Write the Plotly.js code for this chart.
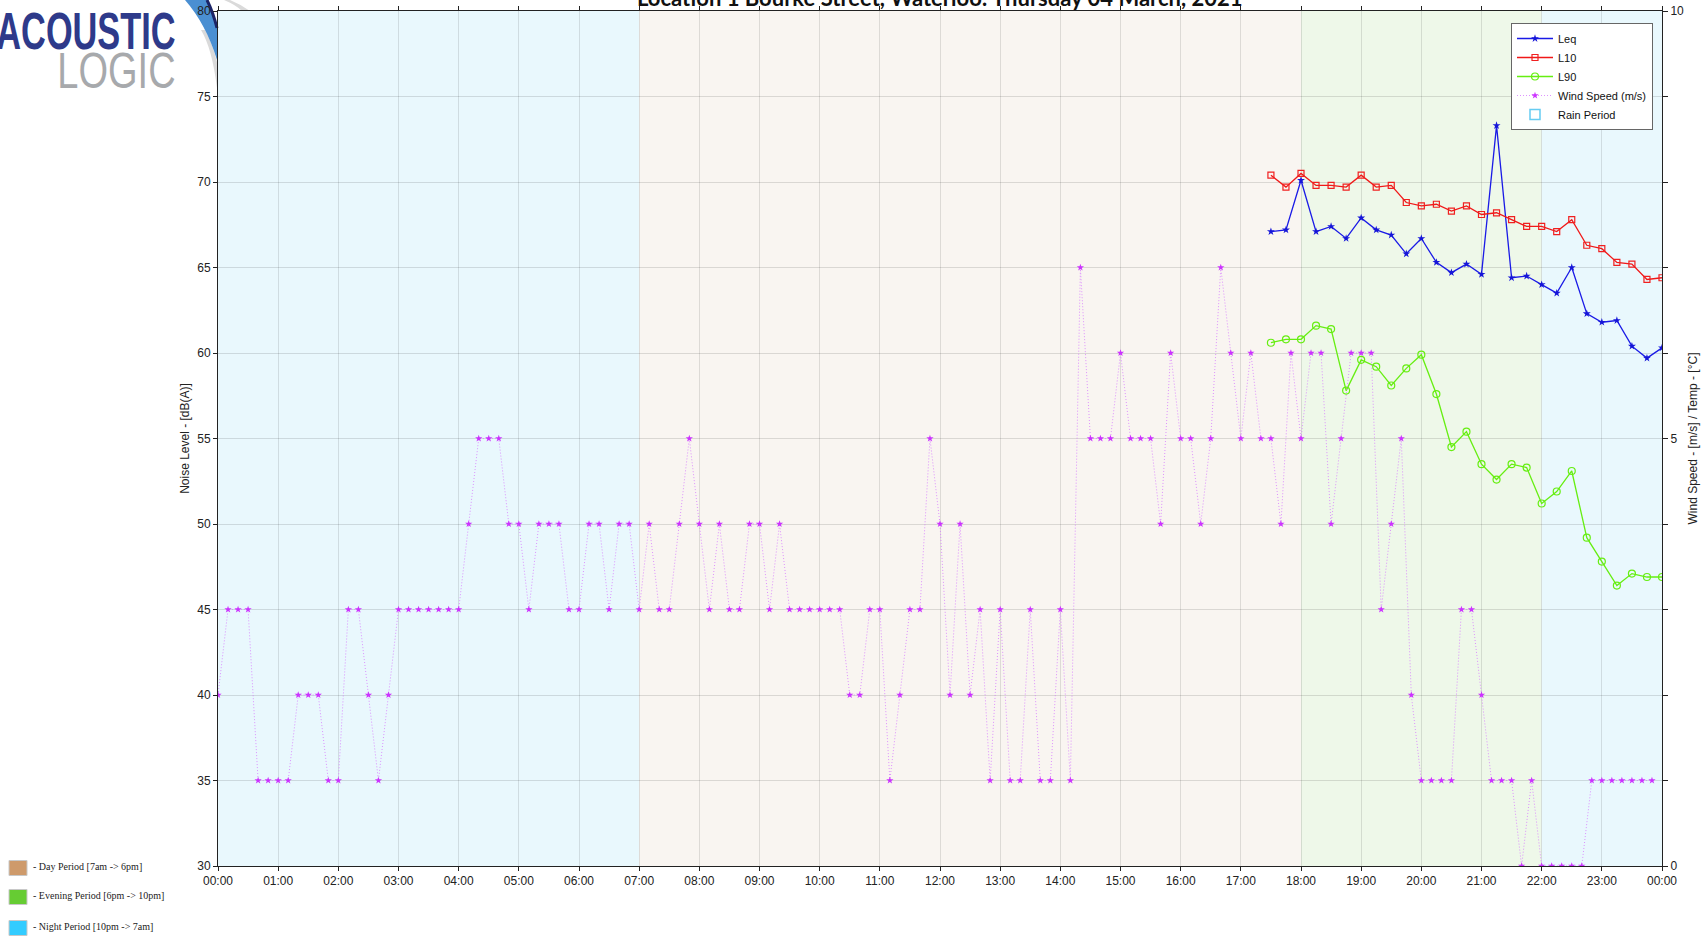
<!DOCTYPE html>
<html>
<head>
<meta charset="utf-8">
<script src="https://cdn.plot.ly/plotly-3.0.1.min.js"></script>
<style>
html,body{margin:0;padding:0;background:#fff;}
#chart{width:1703px;height:939px;}
</style>
</head>
<body>
<div id="chart"></div>
<script>
// ---------------- DATA ----------------
const chartTitle = 'Location 1 Bourke Street, Waterloo: Thursday 04 March, 2021';

// Wind speed (m/s), every 10 minutes from 00:00 to 23:50
const windSpeed = [
  2,3,3,3,1,1,  1,1,2,2,2,1,  1,3,3,2,1,2,  3,3,3,3,3,3,
  3,4,5,5,5,4,  4,3,4,4,4,3,  3,4,4,3,4,4,  3,4,3,3,4,5,
  4,3,4,3,3,4,  4,3,4,3,3,3,  3,3,3,2,2,3,  3,1,2,3,3,5,
  4,2,4,2,3,1,  3,1,1,3,1,1,  3,1,7,5,5,5,  6,5,5,5,4,6,
  5,5,4,5,7,6,  5,6,5,5,4,6,  5,6,6,4,5,6,  6,6,3,4,5,2,
  1,1,1,1,3,3,  2,1,1,1,0,1,  0,0,0,0,0,1,  1,1,1,1,1,1
];

// Noise levels dB(A), every 15 minutes from 17:30 to 24:00
const leq = [67.1,67.2,70.1,67.1,67.4,66.7,67.9,67.2,66.9,65.8,66.7,65.3,64.7,65.2,64.6,
             73.3,64.4,64.5,64.0,63.5,65.0,62.3,61.8,61.9,60.4,59.7,60.3];
const l10 = [70.4,69.7,70.5,69.8,69.8,69.7,70.4,69.7,69.8,68.8,68.6,68.7,68.3,68.6,68.1,
             68.2,67.8,67.4,67.4,67.1,67.8,66.3,66.1,65.3,65.2,64.3,64.4];
const l90 = [60.6,60.8,60.8,61.6,61.4,57.8,59.6,59.2,58.1,59.1,59.9,57.6,54.5,55.4,53.5,
             52.6,53.5,53.3,51.2,51.9,53.1,49.2,47.8,46.4,47.1,46.9,46.9];

const hourLabels = ['00:00','01:00','02:00','03:00','04:00','05:00','06:00','07:00','08:00',
  '09:00','10:00','11:00','12:00','13:00','14:00','15:00','16:00','17:00','18:00','19:00',
  '20:00','21:00','22:00','23:00','00:00'];

const periods = [
  {start:0,  end:7,  color:'#E9F8FD'},
  {start:7,  end:18, color:'#F9F5F1'},
  {start:18, end:22, color:'#EEF8E9'},
  {start:22, end:24, color:'#E9F8FD'}
];

const keyLabels = ['- Day Period [7am -> 6pm]', '- Evening Period [6pm -> 10pm]', '- Night Period [10pm -> 7am]'];
const keyColors = ['#CE9A6B', '#66CC33', '#33CCFF'];

// ---------------- HELPERS ----------------
function stamp(totalMin){
  const day = totalMin >= 1440 ? '2021-03-05' : '2021-03-04';
  const m = totalMin % 1440;
  return day + ' ' + String(Math.floor(m/60)).padStart(2,'0') + ':' + String(m%60).padStart(2,'0');
}
const windTimes = windSpeed.map((_, i) => stamp(i*10));
const noiseTimes = leq.map((_, i) => stamp(17*60 + 30 + i*15));
const hourTicks = hourLabels.map((_, i) => stamp(i*60));

// page geometry (for decorations outside the plot)
const W = 1703, H = 939;
const M = {l:218, r:41, t:11, b:73};
const PW = W - M.l - M.r, PH = H - M.t - M.b;
const px = x => (x - M.l) / PW;
const py = y => (H - M.b - y) / PH;

// ---------------- TRACES ----------------
const font = 'Liberation Sans, Arial, sans-serif';
const traces = [
  {x: noiseTimes, y: leq, name: 'Leq', type: 'scatter', mode: 'lines+markers',
   line: {color: '#1A1AE6', width: 1.3}, marker: {symbol: 'star', size: 6, color: '#1515D8'}},
  {x: noiseTimes, y: l10, name: 'L10', type: 'scatter', mode: 'lines+markers',
   line: {color: '#F01818', width: 1.3}, marker: {symbol: 'square-open', size: 6, color: '#F02020', line:{width:1.2}}},
  {x: noiseTimes, y: l90, name: 'L90', type: 'scatter', mode: 'lines+markers',
   line: {color: '#66EE11', width: 1.3}, marker: {symbol: 'circle-open', size: 7, color: '#66EE11', line:{width:1.2}}},
  {x: windTimes, y: windSpeed, name: 'Wind Speed (m/s)', type: 'scatter', mode: 'lines+markers', yaxis: 'y2',
   line: {color: 'rgba(214,120,255,0.8)', width: 1, dash: '1px,2px'}, marker: {symbol: 'star', size: 5.5, color: '#CC33FF'}},
  {x: [null], y: [null], name: 'Rain Period', type: 'scatter', mode: 'markers',
   marker: {symbol: 'square-open', size: 10, color: '#66CCF2', line:{width:1.5}}}
];

// ---------------- SHAPES ----------------
const shapes = periods.map(p => ({
  type: 'rect', xref: 'x', yref: 'paper', layer: 'below',
  x0: stamp(p.start*60), x1: stamp(p.end*60), y0: 0, y1: 1,
  fillcolor: p.color, line: {width: 0}
}));

// logo swoosh (decoration)
function pathFrom(pts){
  return pts.map(c => (typeof c === 'string') ? c : px(c[0]).toFixed(5) + ',' + py(c[1]).toFixed(5)).join(' ');
}
shapes.push({type:'path', xref:'paper', yref:'paper', layer:'below',
  path: pathFrom(['M',[230,0],'Q',[240,4],[250,11],'L',[242,11],'Q',[236,5],[224,0],'Z']),
  fillcolor:'#DADADA', line:{width:0}});
shapes.push({type:'path', xref:'paper', yref:'paper', layer:'below',
  path: pathFrom(['M',[201,30],'Q',[212,48],[217,88],'L',[217,62],'Q',[212,42],[205,30],'Z']),
  fillcolor:'#DADADA', line:{width:0}});
shapes.push({type:'path', xref:'paper', yref:'paper', layer:'below',
  path: pathFrom(['M',[185,0],'Q',[206,24],[217,60],'L',[217,28],'Q',[212,12],[207,0],'Z']),
  fillcolor:'#4A8FD2', line:{width:0}});
shapes.push({type:'path', xref:'paper', yref:'paper', layer:'below',
  path: pathFrom(['M',[207,0],'Q',[213,12],[217,28]]),
  line:{color:'#1C2466', width:3}});

// bottom-left period key squares
const keyY = [868, 897, 928];
keyY.forEach((yc, i) => shapes.push({
  type:'rect', xref:'paper', yref:'paper', layer:'above',
  x0: px(9), x1: px(27), y0: py(yc+7.5), y1: py(yc-7.5),
  fillcolor: keyColors[i], line:{color:'#C8C8C8', width:1}
}));

// ---------------- ANNOTATIONS ----------------
const logoFont = 'Liberation Sans, Arial, sans-serif';
const annotations = [
  {text: '<b>' + chartTitle + '</b>', xref:'paper', yref:'paper', x: px(939), y: py(-3),
   xanchor:'center', yanchor:'middle', showarrow:false,
   font:{family:'Lato, Carlito, sans-serif', size:22, color:'#111'}},
  {text: '<b>ACOUSTIC</b>', xref:'paper', yref:'paper', x: px(178), y: py(31),
   xanchor:'right', yanchor:'middle', showarrow:false,
   font:{family: logoFont, size:52, color:'#2E3A8A'}},
  {text: 'LOGIC', xref:'paper', yref:'paper', x: px(178), y: py(71),
   xanchor:'right', yanchor:'middle', showarrow:false,
   font:{family: logoFont, size:50, color:'#A7A9AC'}}
];
keyY.forEach((yc, i) => annotations.push({
  text: keyLabels[i], xref:'paper', yref:'paper', x: px(31), y: py(yc-2),
  xanchor:'left', yanchor:'middle', showarrow:false,
  font:{family:'Liberation Serif, DejaVu Serif, serif', size:10, color:'#222'}
}));

// ---------------- LAYOUT ----------------
const layout = {
  width: W, height: H,
  margin: M,
  paper_bgcolor: '#FFFFFF', plot_bgcolor: '#FFFFFF',
  font: {family: font, size: 12, color: '#222'},
  showlegend: true,
  legend: {x: px(1511), y: py(23), xanchor:'left', yanchor:'top',
    bgcolor:'#FFFFFF', bordercolor:'#666', borderwidth:1,
    font:{family: font, size: 11, color:'#111'}, itemwidth: 36, tracegroupgap: 0},
  xaxis: {
    type: 'date', range: [stamp(0), stamp(1440)],
    tickvals: hourTicks, ticktext: hourLabels,
    ticks: 'outside', ticklen: 4, tickcolor: '#222',
    showline: true, linecolor: '#222', linewidth: 1, mirror: 'ticks',
    showgrid: true, gridcolor: 'rgba(0,0,0,0.11)', gridwidth: 1,
    zeroline: false, tickfont: {size: 12, color:'#222'}
  },
  yaxis: {
    range: [30, 80], dtick: 5, tick0: 30,
    ticks: 'outside', ticklen: 4, tickcolor: '#222',
    showline: true, linecolor: '#222', linewidth: 1,
    showgrid: true, gridcolor: 'rgba(0,0,0,0.12)', gridwidth: 1, zeroline: false,
    tickfont: {size: 12, color:'#222'},
    title: {text: 'Noise Level - [dB(A)]', font: {size: 12, color:'#222'}, standoff: 5}
  },
  yaxis2: {
    overlaying: 'y', side: 'right', range: [0, 10],
    tickvals: [0,1,2,3,4,5,6,7,8,9,10], ticktext: ['0','','','','','5','','','','','10'],
    ticks: 'outside', ticklen: 5, tickcolor: '#222',
    showline: true, linecolor: '#222', linewidth: 1,
    showgrid: false, zeroline: false,
    tickfont: {size: 12, color:'#222'},
    title: {text: 'Wind Speed - [m/s] / Temp - [°C]', font: {size: 12, color:'#222'}, standoff: 5}
  },
  shapes: shapes,
  annotations: annotations
};

Plotly.newPlot('chart', traces, layout, {displayModeBar: false, responsive: false}).then(gd => {
  // condense the logo lettering horizontally (kept as real text)
  const squeeze = {1: 0.66, 2: 0.76};
  gd.querySelectorAll('g.annotation').forEach(g => {
    const idx = g.getAttribute('data-index');
    if (squeeze[idx]) {
      const t = g.querySelector('text.annotation-text');
      if (t) {
        t.style.transformBox = 'fill-box';
        t.style.transformOrigin = '100% 50%';
        t.style.transform = 'scaleX(' + squeeze[idx] + ')';
      }
    }
  });
});
</script>
</body>
</html>
